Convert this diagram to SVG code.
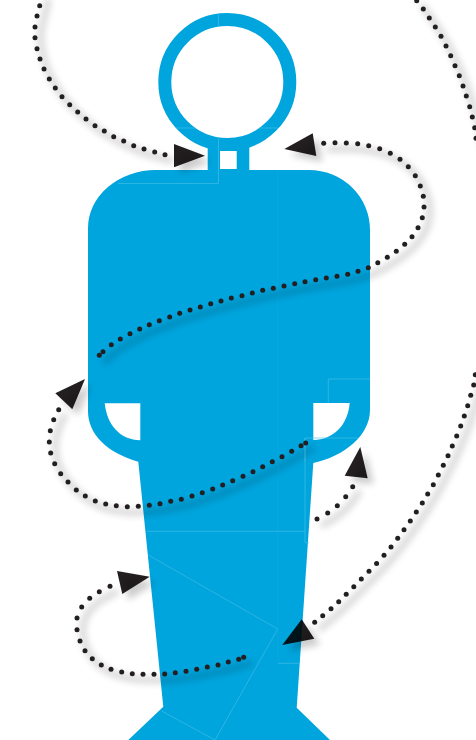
<svg xmlns="http://www.w3.org/2000/svg" width="476" height="740" viewBox="0 0 476 740">
<style>
.fig{fill:#00a5de}
.hole{fill:#fff}
.seam{fill:none;stroke:#4cbfe8;stroke-width:.6}
.seam2{fill:none;stroke:#2fb3e4;stroke-width:.6;opacity:.3}
.shadow{fill:none;stroke:#000;stroke-width:6;stroke-linecap:round;stroke-linejoin:round;opacity:.17;filter:url(#blur)}
.dots{fill:none;stroke:none;marker-start:url(#dot);marker-mid:url(#dot);marker-end:url(#dot)}
.head{fill:#231f20;mix-blend-mode:multiply}
.headshadow{fill:#000;opacity:.2;filter:url(#blur)}
</style>
<defs>
<filter id="blur" x="-40%" y="-40%" width="180%" height="180%"><feGaussianBlur stdDeviation="3.5"/></filter>
<marker id="dot" markerUnits="userSpaceOnUse" markerWidth="6" markerHeight="6" refX="3" refY="3" overflow="visible"><circle cx="3" cy="3" r="2.5" fill="#231f20"/></marker>
<path id="p1" d="M42,-5L39.7,5.7L37,16L35,27L35,37.7L37,48.7L40,59L44,69L49.3,79L55.3,88L62,96.7L69.7,104.7L77.7,112L86,119L95,125.7L104.3,131L113.7,136.7L123.7,141L133.7,145.7L144,149L154.7,152L165,154.7"/>
<path id="p2" d="M323.7,143.3L335,142.7L346.3,143L357.7,143.7L368.7,145.7L379.7,148.7L390.3,153.3L400,159.3L408.3,166.7L415.3,175.7L420.3,186L423.3,196.3L424,207L422.3,217.7L418,227.7L412,236.7L404.7,244.3L396.3,251.3L387.3,257.3L377.8,262.8L368.3,267.7L358,271.3L347.7,274.3L337,276.3L326.3,278L315.7,279.7L305,281.7L294.7,283.7L284,286L273.3,288.3L262.7,290.3L252.3,293L242,295.7L231.3,298L221,301L210.7,303.7L200.3,307L190,310L179.7,313.3L169.7,317L159.3,320.7L149.3,324.7L139.7,329L130,333.7L120.3,339L111.3,344.7L103,351.7L99.3,355.3"/>
<path id="p3" d="M416.7,0.7L423.3,9L429.3,18L435.3,27L441,36.3L446,46L450.7,55.7L455,65.7L459.3,75.7L463,86L466.3,96L469.7,106.7L472.3,117L474.7,127.7L476,138.3"/>
<path id="p4" d="M58.7,409.7L53.7,419.7L50.3,430.7L49.3,442L50.7,453L54.7,463.7L60.7,473.7L68,482L76.3,490L85.3,496L95.3,501L105.7,504L116.3,505.7L127.3,506.7L138.3,506.3L149.3,505.3L160,503.7L170.7,501.3L181.3,499.3L192,496L202.3,492.7L212.7,489L222.7,485L232.7,480.7L243,476.3L253,471.7L262.7,466.7L272.3,461.7L282,456.7L291.7,451.3L301,445.7L305.7,443"/>
<path id="p5" d="M352.7,486.7L345.7,496.7L337.3,505.7L327.7,513L317,519"/>
<path id="p6" d="M475.3,374.7L473.7,385L470.7,395.3L467.7,405.7L464.3,416L460.7,426L456.7,436L452.3,446L448,455.7L443.3,465.3L438.3,475L433.3,484.7L427.7,494L422.3,503L416.3,512L410.3,521L404,529.7L397.7,538.3L391,547L384,555.3L376.6,563.5L369,571.3L361.3,579L353.8,586.7L346.2,594.3L338.7,601.7L331,608.7L322.7,615.7L314.7,622.3"/>
<path id="p7" d="M110,586.3L99.3,591.7L89.7,598.3L81.7,607L77,618L77,629.7L80,641L85,650.7L92.3,658.7L101.3,665L111,669.3L121.7,672L132.3,673.7L143,674.3L154,674.3L164.7,674L175.3,672.7L186,671.3L196.7,669.3L207.3,667L218,665L228.3,662L238.7,659.3L243.7,657.3"/>
</defs>
<rect width="476" height="740" fill="#fff"/>
<g id="figure">
<circle cx="227.3" cy="82" r="62.5" fill="none" stroke="#00a5de" stroke-width="13"/>
<rect class="fig" x="207.7" y="140" width="41.6" height="32"/>
<rect class="hole" x="220" y="151" width="16.7" height="18"/>
<path class="fig" d="M156,170H309A61,60 0 0 1 370,230V410C370,435 345,456 313.3,463L296.7,707.7L330,740H128.3L163.3,706.7L138.3,461.7C108,453 88,435 88,411V228A68,58 0 0 1 156,170Z"/>
<path class="hole" d="M104.7,403.3H140.3V440.3C120,440 107,425 104.7,403.3Z"/>
<path class="hole" d="M313.3,403H349.7C348,425 333,440 313.3,440Z"/>
<path class="seam" d="M218.5,13V27M218.5,137V183.5H118M176,128H195M259,128H278M328.3,403V379H370M305,462V438H358M305,438V542.7H309M147,531.3H305M148.3,555L277.7,629L215,740M161.7,711L215,740M278,663.3H299.3"/>
<path class="seam2" d="M278,170V663.3"/>
</g>
<g id="connectors">
<use href="#p1" class="shadow" transform="translate(6,6)"/>
<use href="#p2" class="shadow" transform="translate(6,6)"/>
<use href="#p3" class="shadow" transform="translate(6,6)"/>
<use href="#p4" class="shadow" transform="translate(6,6)"/>
<use href="#p5" class="shadow" transform="translate(6,6)"/>
<use href="#p6" class="shadow" transform="translate(6,6)"/>
<use href="#p7" class="shadow" transform="translate(6,6)"/>
<polygon class="headshadow" transform="translate(6,6)" points="174,144 205,155.7 174,167.3"/>
<polygon class="headshadow" transform="translate(6,6)" points="312.7,133.3 284.3,149 316.3,156"/>
<polygon class="headshadow" transform="translate(6,6)" points="85,379 55.3,393.3 72.3,409.3"/>
<polygon class="headshadow" transform="translate(6,6)" points="360.3,447 344.7,475.7 367.7,478.3"/>
<polygon class="headshadow" transform="translate(6,6)" points="301.7,619.3 282.3,645 314.3,638.7"/>
<polygon class="headshadow" transform="translate(6,6)" points="117,571 149.7,576.7 122.3,594"/>
<use href="#p1" class="dots"/>
<use href="#p2" class="dots"/>
<use href="#p3" class="dots"/>
<use href="#p4" class="dots"/>
<use href="#p5" class="dots"/>
<use href="#p6" class="dots"/>
<use href="#p7" class="dots"/>
<polygon class="head" points="174,144 205,155.7 174,167.3"/>
<polygon class="head" points="312.7,133.3 284.3,149 316.3,156"/>
<polygon class="head" points="85,379 55.3,393.3 72.3,409.3"/>
<polygon class="head" points="360.3,447 344.7,475.7 367.7,478.3"/>
<polygon class="head" points="301.7,619.3 282.3,645 314.3,638.7"/>
<polygon class="head" points="117,571 149.7,576.7 122.3,594"/>
</g>
</svg>
